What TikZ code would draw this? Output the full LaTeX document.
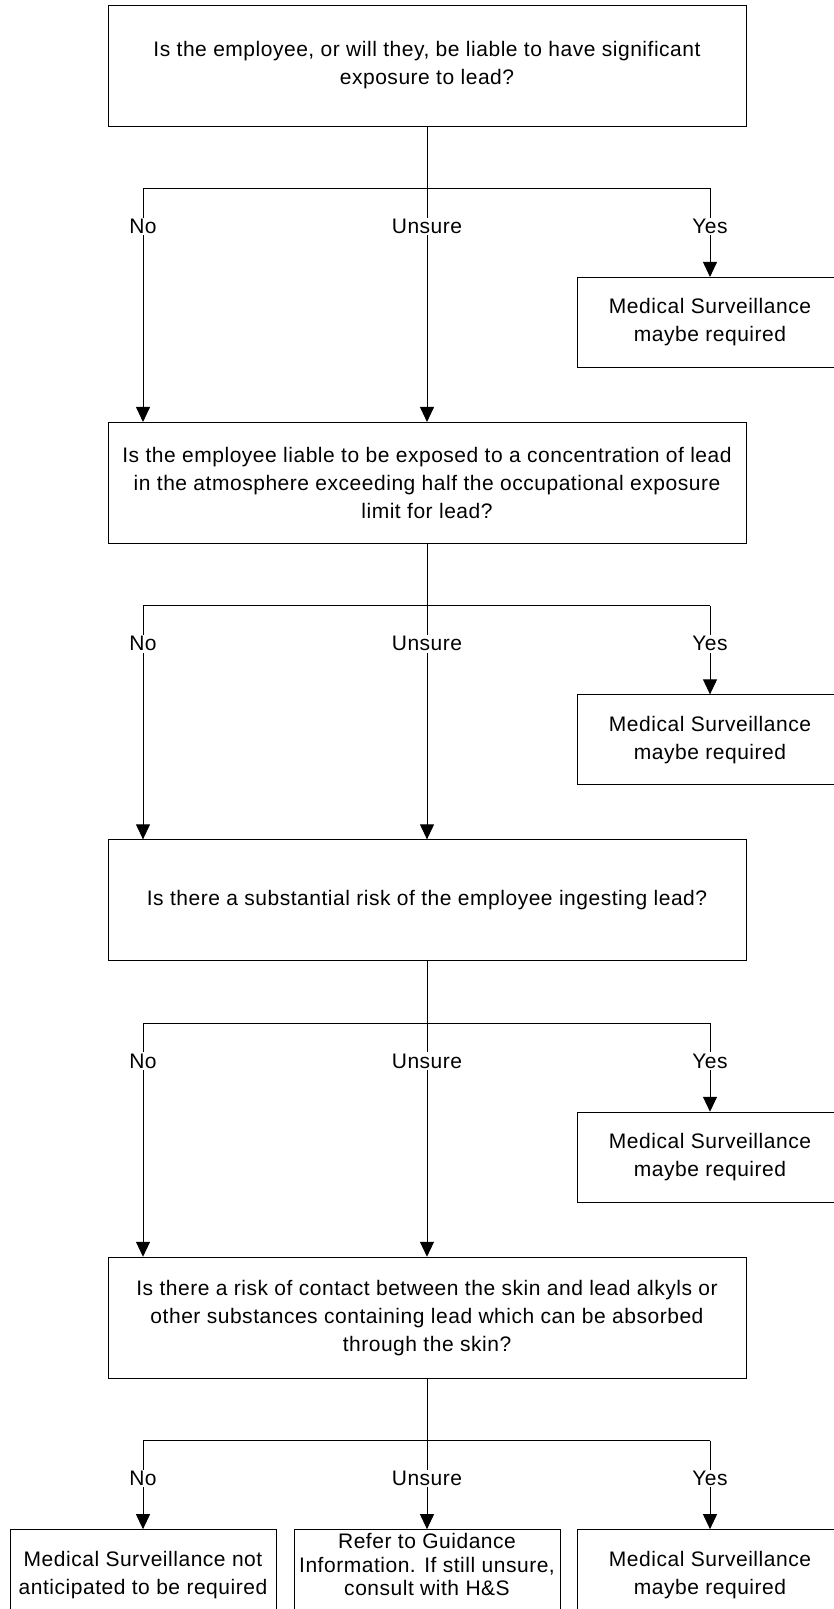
\documentclass[tikz,border=0pt]{standalone}
\usepackage{fontspec}
\setmainfont[LetterSpace=2.5]{Liberation Sans}
\usepackage{tikz}
\usetikzlibrary{arrows.meta, positioning}

\begin{document}
\begin{tikzpicture}[
    line width=0.9pt,
    every node/.style={font=\fontsize{21}{28}\selectfont, align=center},
    question/.style={draw, rectangle, minimum width=638pt, minimum height=121pt},
    outcome/.style={draw, rectangle, minimum width=266pt, minimum height=90pt},
    answer/.style={fill=white, inner sep=1.5pt},
    arrow/.style={-{Triangle[length=15pt, width=14pt]}}
]
\useasboundingbox (0,0) rectangle (833pt,-1609pt);

% Nodes
\node[question] (q1) at (427pt,-65.5pt) {Is the employee, or will they, be liable to have significant\\exposure to lead?};
\node[question, below=295.5pt of q1] (q2) {Is the employee liable to be exposed to a concentration of lead\\in the atmosphere exceeding half the occupational exposure\\limit for lead?};
\node[question, below=295.5pt of q2] (q3) {Is there a substantial risk of the employee ingesting lead?};
\node[question, below=295.5pt of q3] (q4) {Is there a risk of contact between the skin and lead alkyls or\\other substances containing lead which can be absorbed\\through the skin?};

\node[outcome, below=150.5pt of q1, xshift=283pt] (yes1) {Medical Surveillance\\maybe required};
\node[outcome, below=150.5pt of q2, xshift=283pt] (yes2) {Medical Surveillance\\maybe required};
\node[outcome, below=150.5pt of q3, xshift=283pt] (yes3) {Medical Surveillance\\maybe required};
\node[outcome, below=150.5pt of q4, xshift=283pt] (yes4) {Medical Surveillance\\maybe required};
\node[outcome, below=150.5pt of q4, xshift=-284pt] (no4) {Medical Surveillance not\\anticipated to be required};
\node[outcome, below=150.5pt of q4, font=\fontsize{21}{23.6}\selectfont, text depth=20pt] (unsure4) {Refer to Guidance\\Information. If still unsure,\\consult with H\&S};

% Branch points
\coordinate[below=62pt of q1] (bar1);
\coordinate[below=62pt of q2] (bar2);
\coordinate[below=62pt of q3] (bar3);
\coordinate[below=62pt of q4] (bar4);
\coordinate[left=284pt of bar1] (l1);
\coordinate[left=284pt of bar2] (l2);
\coordinate[left=284pt of bar3] (l3);
\coordinate[left=284pt of bar4] (l4);
\coordinate[right=283pt of bar1] (r1);
\coordinate[right=283pt of bar2] (r2);
\coordinate[right=283pt of bar3] (r3);
\coordinate[right=283pt of bar4] (r4);

% Arrows
\draw (l1) -- (r1);
\draw[arrow] (q1) -- (q2);
\draw[arrow] (l1) -- (l1 |- q2.north);
\draw[arrow] (r1) -- (yes1);
\node[answer] at ([yshift=-38pt]l1) {No};
\node[answer] at ([yshift=-38pt]bar1) {Unsure};
\node[answer] at ([yshift=-38pt]r1) {Yes};

\draw (l2) -- (r2);
\draw[arrow] (q2) -- (q3);
\draw[arrow] (l2) -- (l2 |- q3.north);
\draw[arrow] (r2) -- (yes2);
\node[answer] at ([yshift=-38pt]l2) {No};
\node[answer] at ([yshift=-38pt]bar2) {Unsure};
\node[answer] at ([yshift=-38pt]r2) {Yes};

\draw (l3) -- (r3);
\draw[arrow] (q3) -- (q4);
\draw[arrow] (l3) -- (l3 |- q4.north);
\draw[arrow] (r3) -- (yes3);
\node[answer] at ([yshift=-38pt]l3) {No};
\node[answer] at ([yshift=-38pt]bar3) {Unsure};
\node[answer] at ([yshift=-38pt]r3) {Yes};

\draw (l4) -- (r4);
\draw[arrow] (q4) -- (unsure4);
\draw[arrow] (l4) -- (no4);
\draw[arrow] (r4) -- (yes4);
\node[answer] at ([yshift=-38pt]l4) {No};
\node[answer] at ([yshift=-38pt]bar4) {Unsure};
\node[answer] at ([yshift=-38pt]r4) {Yes};

\end{tikzpicture}
\end{document}
